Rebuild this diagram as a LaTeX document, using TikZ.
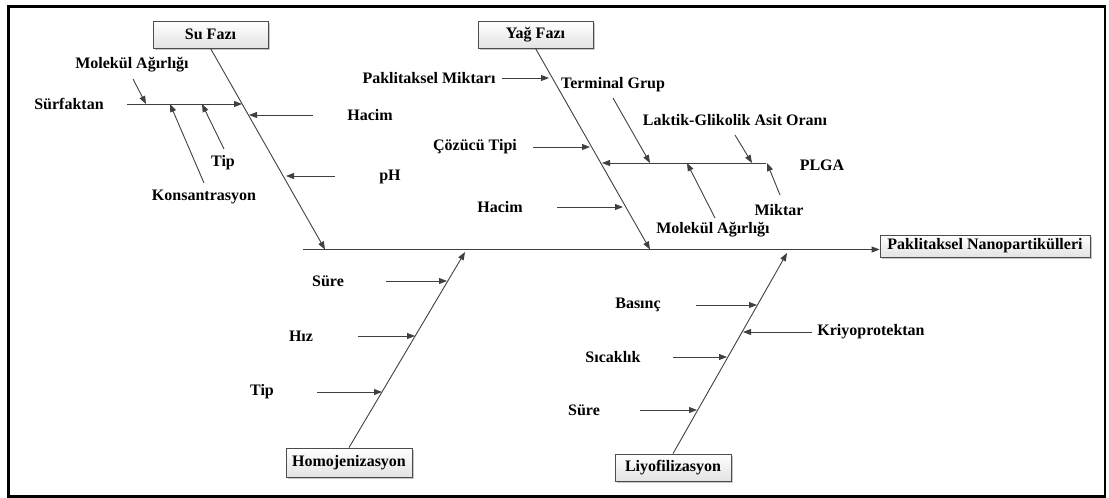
\documentclass[tikz,border=0pt]{standalone}
\usepackage{fontspec}
\setmainfont{Liberation Serif}
\usetikzlibrary{arrows.meta,shadows}
\begin{document}
\begin{tikzpicture}[x=1pt,y=-1pt,
  lbl/.style={font=\fontsize{16}{18}\selectfont\bfseries, inner sep=0pt, text=black},
  catbox/.style={draw=black!70, line width=0.8pt, top color=white, bottom color=gray!22,
    drop shadow={shadow xshift=2pt,shadow yshift=-2pt,fill=gray!45,opacity=1},
    font=\fontsize{16}{18}\selectfont\bfseries, inner sep=0pt},
  ln/.style={draw=black!75, line width=0.9pt},
  arr/.style={ln, -{Triangle[length=8pt,width=6pt]}},
]
\useasboundingbox (0,0) rectangle (1109,498);
\draw[line width=2.5pt] (8.5,6.5) rectangle (1105,496.5);

% category boxes
\node[catbox, minimum width=115pt, minimum height=27pt] (su) at (210.5,34.5) {Su Fazı};
\node[catbox, minimum width=115pt, minimum height=27pt] (yag) at (535.5,34.5) {Yağ Fazı};
\node[catbox, minimum width=126pt, minimum height=29pt] (homo) at (349,462.5) {Homojenizasyon};
\node[catbox, minimum width=116pt, minimum height=27pt] (liyo) at (673,467.5) {Liyofilizasyon};
\node[catbox, minimum width=210pt, minimum height=22pt] (pn) at (985,246) {Paklitaksel Nanopartikülleri};

% main spine
\coordinate (m0) at (303,249.5);
\draw[arr] (m0) -- (m0 -| pn.west);

% category spines
\coordinate (suE) at (325,249.5);
\coordinate (yagE) at (650,249.5);
\coordinate (homoE) at (465,252);
\coordinate (liyoE) at (787,253);
\draw[arr] (su.south) -- (suE);
\draw[arr] (yag.south) -- (yagE);
\draw[arr] (homo.north) -- (homoE);
\draw[arr] (liyo.north) -- (liyoE);

% ---- Su Fazi ----
\node[lbl] (sf) at (69,104) {Sürfaktan};
\coordinate (sfS) at (127,104); \coordinate (sfE) at (242,104);
\draw[arr] (sfS) -- (sfE);
\node[lbl] (ma1) at (132,65) {Molekül Ağırlığı};
\coordinate (ma1S) at (133,79); \coordinate (ma1E) at (146,104);
\draw[arr] (ma1S) -- (ma1E);
\node[lbl] (tip1) at (223,163) {Tip};
\coordinate (tip1S) at (224,149); \coordinate (tip1E) at (202,104);
\draw[arr] (tip1S) -- (tip1E);
\node[lbl] (kons) at (204,197) {Konsantrasyon};
\coordinate (konsS) at (204,183); \coordinate (konsE) at (170,104);
\draw[arr] (konsS) -- (konsE);
\node[lbl] (hac1) at (370,115) {Hacim};
\coordinate (hac1S) at (313,115); \coordinate (hac1E) at (249,115);
\draw[arr] (hac1S) -- (hac1E);
\node[lbl] (ph) at (390,177) {pH};
\coordinate (phS) at (335,176); \coordinate (phE) at (286,176);
\draw[arr] (phS) -- (phE);

% ---- Yag Fazi ----
\node[lbl] (pm) at (429,78) {Paklitaksel Miktarı};
\coordinate (pmS) at (502,78); \coordinate (pmE) at (549,78);
\draw[arr] (pmS) -- (pmE);
\node[lbl] (cz) at (475,147) {Çözücü Tipi};
\coordinate (czS) at (533,147); \coordinate (czE) at (590,147);
\draw[arr] (czS) -- (czE);
\node[lbl] (hac2) at (500,207) {Hacim};
\coordinate (hac2S) at (557,207); \coordinate (hac2E) at (623,207);
\draw[arr] (hac2S) -- (hac2E);
\node[lbl] (plga) at (822,165) {PLGA};
\coordinate (plgaS) at (766,163); \coordinate (plgaE) at (602,163);
\draw[arr] (plgaS) -- (plgaE);
\node[lbl] (tg) at (613,85) {Terminal Grup};
\coordinate (tgS) at (613,98); \coordinate (tgE) at (650,163);
\draw[arr] (tgS) -- (tgE);
\node[lbl] (lg) at (735,120) {Laktik-Glikolik Asit Oranı};
\coordinate (lgS) at (735,135); \coordinate (lgE) at (752,163);
\draw[arr] (lgS) -- (lgE);
\node[lbl] (ma2) at (713,230) {Molekül Ağırlığı};
\coordinate (ma2S) at (715,218); \coordinate (ma2E) at (687,163);
\draw[arr] (ma2S) -- (ma2E);
\node[lbl] (mk) at (779,210) {Miktar};
\coordinate (mkS) at (780,195); \coordinate (mkE) at (767,163);
\draw[arr] (mkS) -- (mkE);

% ---- Homojenizasyon ----
\node[lbl] (sure1) at (328,281) {Süre};
\coordinate (sure1S) at (386,281); \coordinate (sure1E) at (447,281);
\draw[arr] (sure1S) -- (sure1E);
\node[lbl] (hiz) at (301,336) {Hız};
\coordinate (hizS) at (358,336); \coordinate (hizE) at (415,336);
\draw[arr] (hizS) -- (hizE);
\node[lbl] (tip2) at (262,392) {Tip};
\coordinate (tip2S) at (317,392); \coordinate (tip2E) at (382,392);
\draw[arr] (tip2S) -- (tip2E);

% ---- Liyofilizasyon ----
\node[lbl] (bas) at (638,305) {Basınç};
\coordinate (basS) at (696,305); \coordinate (basE) at (757,305);
\draw[arr] (basS) -- (basE);
\node[lbl] (kri) at (871,332) {Kriyoprotektan};
\coordinate (kriS) at (812,332); \coordinate (kriE) at (743,332);
\draw[arr] (kriS) -- (kriE);
\node[lbl] (sic) at (613,357) {Sıcaklık};
\coordinate (sicS) at (673,357); \coordinate (sicE) at (727,357);
\draw[arr] (sicS) -- (sicE);
\node[lbl] (sure2) at (584,410) {Süre};
\coordinate (sure2S) at (640,410); \coordinate (sure2E) at (697,410);
\draw[arr] (sure2S) -- (sure2E);
\end{tikzpicture}
\end{document}
